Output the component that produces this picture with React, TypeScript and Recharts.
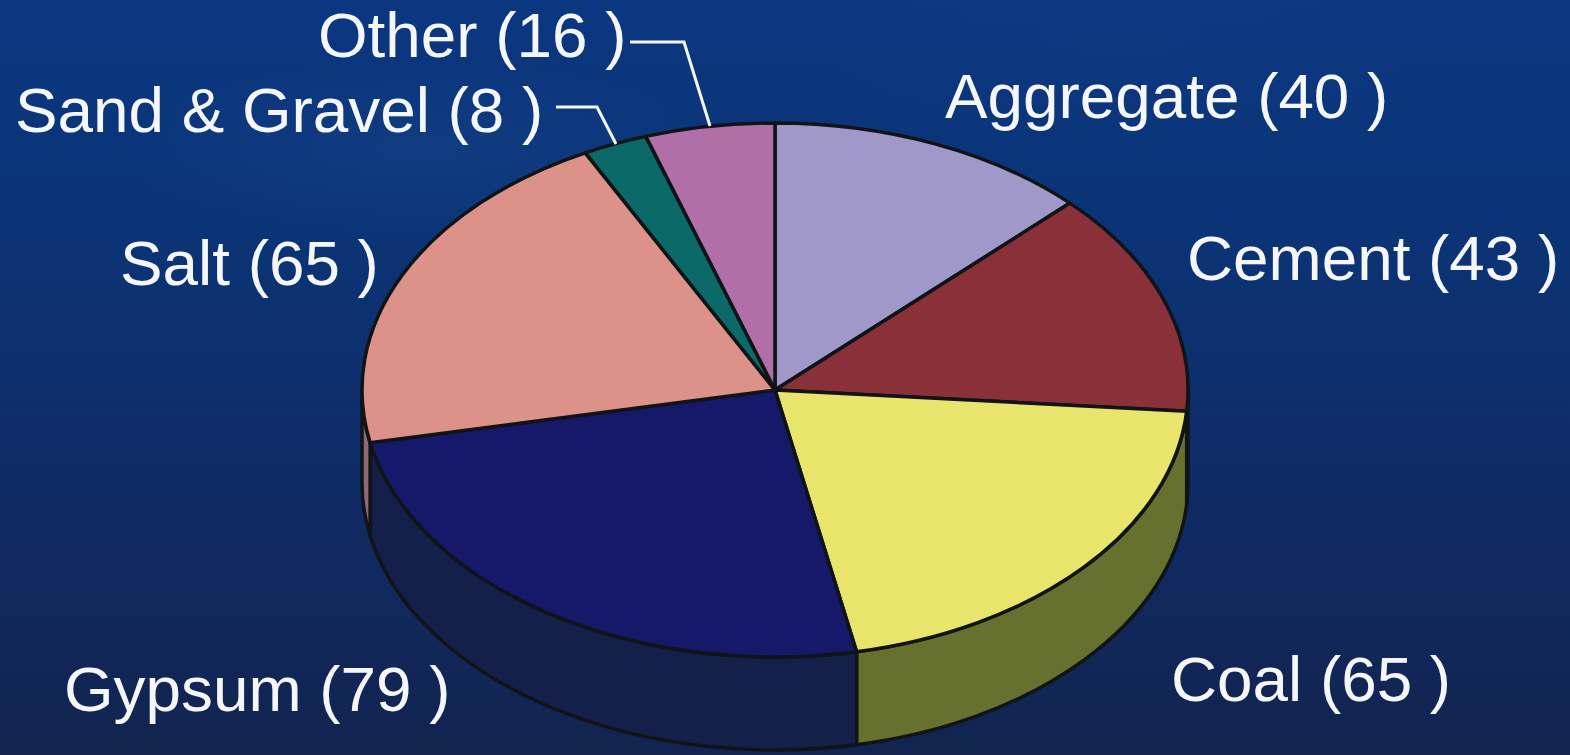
import React from 'react';
import { PieChart, Pie } from 'recharts';

const names = ['Aggregate', 'Cement', 'Coal', 'Gypsum', 'Salt', 'Sand & Gravel', 'Other'];
const values = [40, 43, 65, 79, 65, 8, 16];

const topColors = ['#9f98c9', '#8a3039', '#e9e56c', '#16186a', '#dc9189', '#0b6a68', '#b16fa8'];
const wallColors = ['#4f4c66', '#5c2230', '#66702f', '#15204a', '#8e6a78', '#0a3a40', '#60406a'];

// label anchor (start x, baseline y)
const labelPos = [
  [945, 118],
  [1187, 280],
  [1171, 701],
  [64, 711],
  [120, 285],
  [15, 132],
  [318, 57],
];
// leader lines only for the two thin slices
const leaders: Record<string, string> = {
  'Sand & Gravel': '556,107 597,107 616,144',
  Other: '630,42 684,42 710,126',
};

const topData = names.map((name, i) => ({ name, value: values[i], fill: topColors[i] }));
const wallData = names.map((name, i) => ({ name, value: values[i], fill: wallColors[i] }));

const W = 1570;
const H = 755;
const CX = 775;
const CY = 390;
const RX = 413;
const RY = 267;
const DEPTH = 93;
const EDGE = '#101417';

const pt = (deg: number, dy = 0) => {
  const a = (deg * Math.PI) / 180;
  return `${CX + RX * Math.sin(a)} ${CY + dy - RY * Math.cos(a)}`;
};

function TopSlice(props: any) {
  const a = 90 - props.startAngle;
  const b = 90 - props.endAngle;
  const large = b - a > 180 ? 1 : 0;
  const d = `M ${CX} ${CY} L ${pt(a)} A ${RX} ${RY} 0 ${large} 1 ${pt(b)} Z`;
  return <path d={d} fill={props.fill} stroke={EDGE} strokeWidth={3.5} strokeLinejoin="round" />;
}

// side of the disc, only the front half shows
function WallSlice(props: any) {
  const a = Math.max(90 - props.startAngle, 90);
  const b = Math.min(90 - props.endAngle, 270);
  if (b <= a) return <g />;
  const d = `M ${pt(a)} A ${RX} ${RY} 0 0 1 ${pt(b)} L ${pt(b, DEPTH)} A ${RX} ${RY} 0 0 0 ${pt(a, DEPTH)} Z`;
  return <path d={d} fill={props.fill} stroke={EDGE} strokeWidth={3.5} strokeLinejoin="round" />;
}

function SliceLabel(props: any) {
  const i = props.index;
  const [x, y] = labelPos[i];
  const line = leaders[names[i]];
  return (
    <g>
      <text x={x} y={y} fill="#f4f6f8" fontSize={63.8} fontFamily="'Liberation Sans', Arial, sans-serif">
        {`${names[i]} (${values[i]} )`}
      </text>
      {line && <polyline points={line} fill="none" stroke="#f4f6f8" strokeWidth={3} />}
    </g>
  );
}

const background = [
  'radial-gradient(ellipse 300px 90px at 420px 150px, rgba(40,90,160,0.18), rgba(40,90,160,0) 100%)',
  'radial-gradient(ellipse 320px 110px at 1120px 30px, rgba(20,60,130,0.25), rgba(20,60,130,0) 100%)',
  'linear-gradient(180deg, #0b3781 0%, #0b3476 30%, #0f2c68 60%, #12244f 100%)',
].join(', ');

export default function App() {
  return (
    <div style={{ position: 'absolute', left: 0, top: 0, width: W, height: H, background, overflow: 'hidden' }}>
      <PieChart width={W} height={H} margin={{ top: 0, right: 0, bottom: 0, left: 0 }}>
        <Pie
          data={wallData}
          dataKey="value"
          nameKey="name"
          cx={CX}
          cy={CY}
          outerRadius={RX}
          startAngle={90}
          endAngle={-270}
          shape={WallSlice}
          isAnimationActive={false}
        />
        <Pie
          data={topData}
          dataKey="value"
          nameKey="name"
          cx={CX}
          cy={CY}
          outerRadius={RX}
          startAngle={90}
          endAngle={-270}
          shape={TopSlice}
          label={SliceLabel}
          labelLine={false}
          isAnimationActive={false}
        />
      </PieChart>
    </div>
  );
}
